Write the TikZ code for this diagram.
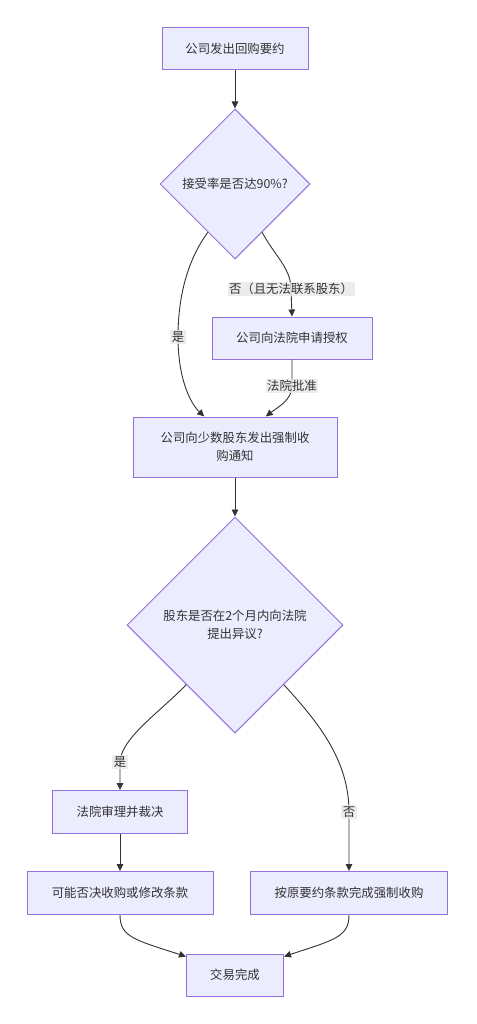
\documentclass[tikz,border=0pt]{standalone}
\usepackage{fontspec}
\setmainfont{Noto Sans CJK SC}
\usetikzlibrary{shapes.geometric,arrows.meta,calc}
\definecolor{nodefill}{HTML}{ECECFF}
\definecolor{nodeline}{HTML}{9370DB}
\definecolor{edgeline}{HTML}{333333}
\definecolor{lblbg}{HTML}{E8E8E8}
\definecolor{txt}{HTML}{333333}
\begin{document}
\begin{tikzpicture}[x=1pt,y=-1pt,
  box/.style={draw=nodeline, fill=nodefill, line width=1pt, rectangle, inner sep=0pt, text=txt, font=\fontsize{12.4}{18}\selectfont, align=center},
  dia/.style={box, diamond, aspect=1},
  edge/.style={draw=edgeline, line width=0.9pt, -{Triangle[length=7pt,width=6.5pt]}},
  plain/.style={draw=edgeline, line width=0.9pt},
  lbl/.style={fill=lblbg, fill opacity=0.8, text opacity=1, text=txt, inner sep=1.5pt, font=\fontsize{12.4}{16}\selectfont}]
\useasboundingbox (0,0) rectangle (476,1024);
\fill[white] (0,0) rectangle (476,1024);
% nodes
\node[box, minimum width=146pt, minimum height=42pt] (n1) at (235,49) {公司发出回购要约};
\node[dia, minimum width=150pt, minimum height=150pt] (d1) at (235,184) {接受率是否达90\%?};
\node[box, minimum width=160pt, minimum height=42pt] (n3) at (292,338) {公司向法院申请授权};
\node[box, minimum width=204pt, minimum height=60pt] (n4) at (235,447) {公司向少数股东发出强制收\\购通知};
\node[dia, minimum width=216pt, minimum height=216pt] (d2) at (235,625) {股东是否在2个月内向法院\\提出异议?};
\node[box, minimum width=135pt, minimum height=43pt] (n6) at (120,812) {法院审理并裁决};
\node[box, minimum width=186pt, minimum height=43pt] (n7) at (120,893) {可能否决收购或修改条款};
\node[box, minimum width=197pt, minimum height=43pt] (n8) at (349,893) {按原要约条款完成强制收购};
\node[box, minimum width=97pt, minimum height=42pt] (n9) at (235,975) {交易完成};
% coordinates
\coordinate (a1) at ($(d1.west)!0.64!(d1.south)$);
\coordinate (b1) at ($(d1.east)!0.64!(d1.south)$);
\coordinate (ly1) at (178,337);
\coordinate (ln1) at (291,289);
\coordinate (lc1) at (292,386);
\coordinate (t1) at ($(n4.north west)!0.35!(n4.north east)$);
\coordinate (t2) at ($(n4.north west)!0.65!(n4.north east)$);
\coordinate (a2) at ($(d2.west)!0.55!(d2.south)$);
\coordinate (b2) at ($(d2.east)!0.55!(d2.south)$);
\coordinate (ly2) at (120,762);
\coordinate (ln2) at (349,812);
\coordinate (t3) at ($(n9.north west)+(0,3)$);
\coordinate (t4) at ($(n9.north east)+(0,3)$);
% edges
\draw[edge] (n1.south) -- (d1.north);
\draw[edge] (a1) .. controls (186,262) and (178,300) .. (ly1) .. controls (178,378) and (190,403) .. (t1);
\draw[edge] (b1) .. controls (274,255) and (291,268) .. (ln1) -- (n3.north);
\draw[edge] (n3.south) -- (lc1) .. controls (292,400) and (278,407) .. (t2);
\draw[edge] (n4.south) -- (d2.north);
\draw[edge] (a2) .. controls (160,712) and (121,738) .. (ly2) -- (n6.north);
\draw[edge] (b2) .. controls (318,722) and (349,760) .. (ln2) -- (n8.north);
\draw[edge] (n6.south) -- (n7.north);
\draw[edge] (n7.south) .. controls (120,937) and (135,940) .. (t3);
\draw[edge] (n8.south) .. controls (349,937) and (334,940) .. (t4);
% labels
\node[lbl] (L1) at (ly1) {是};
\node[lbl] (L2) at (ln1) {否（且无法联系股东）};
\node[lbl] (L3) at (lc1) {法院批准};
\node[lbl] (L4) at (ly2) {是};
\node[lbl] (L5) at (ln2) {否};
\end{tikzpicture}
\end{document}
